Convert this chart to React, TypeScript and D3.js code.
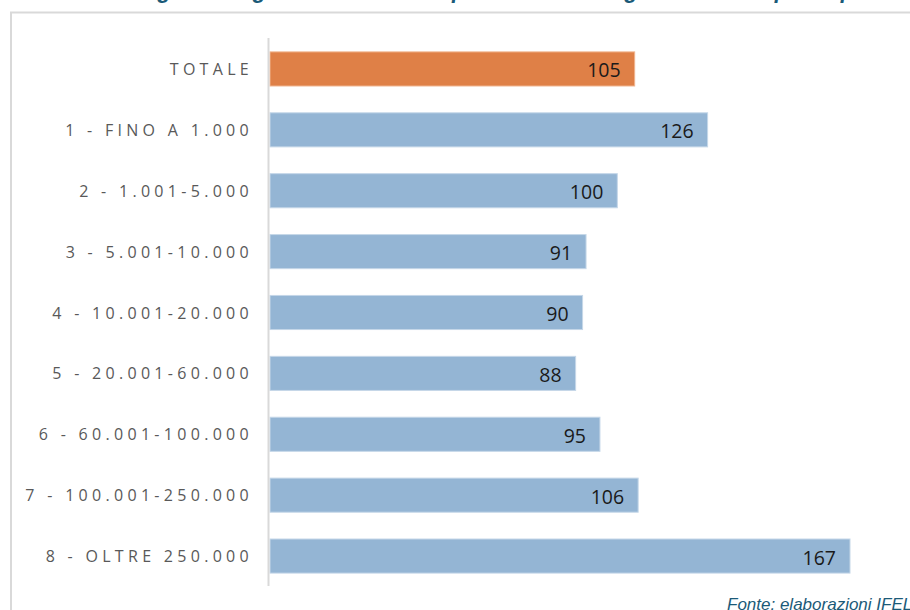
import React from "react";
import * as d3 from "d3";

const categories = [
  "TOTALE",
  "1 - FINO A 1.000",
  "2 - 1.001-5.000",
  "3 - 5.001-10.000",
  "4 - 10.001-20.000",
  "5 - 20.001-60.000",
  "6 - 60.001-100.000",
  "7 - 100.001-250.000",
  "8 - OLTRE 250.000",
];
const values = [105, 126, 100, 91, 90, 88, 95, 106, 167];
const titleText = "Grafico 2 – Assegnazioni generali ai comuni per classe demografica: valori pro capite";
const sourceText = "Fonte: elaborazioni IFEL";

const W = 910;
const H = 610;

export default function App() {
  const x = d3.scaleLinear().domain([0, 167]).range([270, 850]);
  const y = d3.scaleBand<string>().domain(categories).range([38.5, 586.5]).paddingInner(0.44).paddingOuter(0.22);

  return (
    <svg
      width={W}
      height={H}
      style={{ position: "absolute", left: 0, top: 0, background: "#fff" }}
      viewBox={`0 0 ${W} ${H}`}
    >
      <rect x={0} y={0} width={W} height={H} fill="#fff" />
      <text
        x={880}
        y={-2}
        textAnchor="end"
        fontFamily="Liberation Sans, Arial, sans-serif"
        fontStyle="italic"
        fontWeight="bold"
        fontSize={22}
        fill="#1b5a78"
      >
        {titleText}
      </text>
      {/* frame */}
      <path d={`M11,${H} L11,12.5 L${W + 5},12.5`} fill="none" stroke="#d9d9d9" strokeWidth={2} />
      {/* bars */}
      {categories.map((c, i) => (
        <g key={c}>
          <rect
            x={x(0)}
            y={y(c)!}
            width={x(values[i]) - x(0)}
            height={y.bandwidth()}
            fill={i === 0 ? "#df8047" : "#94b5d4"}
            stroke={i === 0 ? "#f0b48e" : "#c5d7e8"}
            strokeWidth={1}
          />
          <text
            x={x(values[i]) - 14}
            y={y(c)! + y.bandwidth() / 2 + 8.5}
            textAnchor="end"
            fontFamily="Open Sans, Liberation Sans, sans-serif"
            fontSize={19.5}
            fill="#1a1a1a"
          >
            {values[i]}
          </text>
          <text
            x={253}
            y={y(c)! + y.bandwidth() / 2 + 6}
            textAnchor="end"
            fontFamily="Open Sans, Liberation Sans, sans-serif"
            fontSize={16}
            letterSpacing={4.3}
            fill="#595959"
          >
            {c}
          </text>
        </g>
      ))}
      {/* axis line */}
      <line x1={268.5} x2={268.5} y1={38} y2={586} stroke="#d9d9d9" strokeWidth={2} />
      <text
        x={727}
        y={610}
        fontFamily="Liberation Sans, Arial, sans-serif"
        fontStyle="italic"
        fontSize={17}
        fill="#1b5a78"
      >
        {sourceText}
      </text>
    </svg>
  );
}
